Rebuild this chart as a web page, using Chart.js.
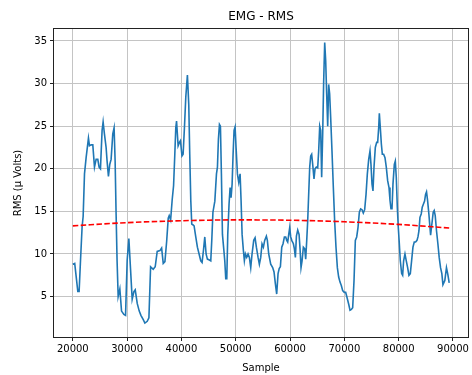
<!DOCTYPE html>
<html>
<head>
<meta charset="utf-8">
<title>EMG - RMS</title>
<script src="https://cdn.jsdelivr.net/npm/chart.js"></script>
<style>
  html, body { margin: 0; padding: 0; background: #fff; }
  #wrap { width: 472px; height: 375px; }
</style>
</head>
<body>
<div id="wrap"><canvas id="emgChart" width="472" height="375"></canvas></div>
<script>
// data
const chartTitle = 'EMG - RMS';
const xTitle = 'Sample';
const yTitle = 'RMS (µ Volts)';

const sampleX = [
  20000, 20350, 20680, 20920, 21160, 21420, 21710, 21900, 22150, 22450,
  22880, 23070, 23370, 23680, 23990, 24290, 24600, 24840, 25090, 25390,
  25580, 25820, 26130, 26310, 26560, 26800, 27050, 27360, 27600, 27790,
  27970, 28150, 28350, 28660, 28970, 29400, 29710, 30010, 30320, 30630,
  30930, 31250, 31490, 31860, 32230, 32540, 32970, 33270, 33700, 34010,
  34320, 34800, 35170, 35540, 36040, 36350, 36650, 36960, 37280, 37570,
  37750, 38010, 38300, 38550, 38780, 38960, 39100, 39390, 39630, 39820,
  40100, 40310, 40550, 40800, 41100, 41350, 41530, 41720, 41900, 42150,
  42330, 42640, 42940, 43250, 43560, 43800, 44050, 44300, 44540, 44780,
  45150, 45400, 45600, 45800, 46150, 46450, 46630, 46810, 47000, 47180,
  47360, 47550, 47790, 47980, 48160, 48350, 48530, 48770, 48960, 49140,
  49330, 49510, 49690, 49880, 50060, 50310, 50550, 50800, 50980, 51170,
  51410, 51590, 51780, 52020, 52270, 52510, 52760, 53000, 53310, 53560,
  53800, 54110, 54350, 54600, 54840, 55090, 55330, 55640, 55820, 56070,
  56440, 56800, 57050, 57300, 57540, 57790, 58000, 58220, 58470, 58710,
  58960, 59200, 59390, 59570, 59760, 59940, 60120, 60310, 60610, 60800,
  60980, 61170, 61410, 61660, 61840, 62020, 62210, 62450, 62700, 62880,
  63070, 63250, 63430, 63620, 63800, 63980, 64170, 64410, 64600, 64840,
  65090, 65270, 65460, 65640, 65820, 66010, 66190, 66380, 66560, 66740,
  66930, 67110, 67290, 67480, 67720, 67970, 68210, 68460, 68710, 68950,
  69200, 69440, 69690, 69990, 70240, 70490, 70800, 71040, 71290, 71530,
  71780, 72020, 72270, 72510, 72760, 73000, 73250, 73490, 73740, 73990,
  74230, 74480, 74720, 74900, 75090, 75270, 75460, 75700, 75950, 76130,
  76320, 76440, 76620, 76810, 76990, 77230, 77480, 77720, 77970, 78220,
  78400, 78580, 78770, 78950, 79200, 79380, 79560, 79750, 79930, 80120,
  80300, 80550, 80730, 80910, 81160, 81400, 81650, 81890, 82140, 82380,
  82630, 82870, 83120, 83370, 83550, 83730, 83920, 84150, 84340, 84580,
  84770, 84950, 85130, 85320, 85560, 85880, 86180, 86360, 86540, 86730,
  86970, 87220, 87460, 87710, 87950, 88150, 88500, 88800, 89050, 89300
];

const rmsValues = [
  8.8, 8.9, 7.0, 5.6, 5.6, 9.3, 13.2, 14.4, 19.4, 21.3,
  23.6, 22.7, 22.8, 22.8, 20.2, 21.1, 21.1, 20.2, 20.0, 24.5,
  25.5, 24.1, 22.5, 20.9, 19.1, 20.5, 21.1, 24.1, 24.8, 20.9,
  14.7, 9.2, 5.0, 5.9, 3.3, 2.9, 2.8, 9.3, 11.8, 8.2,
  4.7, 5.6, 5.8, 4.2, 3.3, 2.8, 2.3, 1.9, 2.1, 2.5,
  8.5, 8.2, 8.5, 10.3, 10.4, 10.7, 8.9, 9.1, 11.5, 14.2,
  14.5, 14.0, 16.4, 18.0, 21.7, 24.8, 25.6, 22.7, 23.1, 23.3,
  21.5, 21.7, 24.8, 28.4, 31.0, 27.5, 21.7, 16.3, 13.5, 13.4,
  13.3, 12.0, 10.8, 10.0, 9.2, 9.0, 10.4, 12.0, 10.0, 9.4,
  9.3, 9.2, 11.8, 14.9, 16.2, 19.4, 20.2, 23.5, 25.2, 25.0,
  19.4, 12.3, 10.6, 9.2, 7.1, 7.1, 12.3, 15.9, 17.8, 16.6,
  18.2, 21.7, 24.5, 24.9, 22.5, 19.4, 18.4, 19.4, 16.3, 12.3,
  10.4, 9.2, 10.0, 9.6, 10.0, 9.6, 8.4, 10.0, 11.6, 11.9,
  10.8, 9.6, 8.8, 9.6, 11.2, 10.8, 11.6, 12.1, 11.6, 10.0,
  8.8, 8.4, 7.9, 6.5, 5.3, 7.7, 8.3, 8.5, 10.8, 11.2,
  12.0, 12.0, 11.6, 11.4, 12.3, 13.1, 12.0, 11.6, 11.2, 10.6,
  9.6, 12.1, 12.8, 12.3, 10.6, 8.4, 9.2, 10.8, 10.6, 9.4,
  11.6, 13.9, 17.0, 20.2, 21.5, 21.7, 20.5, 18.8, 20.0, 20.2,
  20.1, 22.1, 25.0, 24.5, 19.0, 24.1, 30.3, 34.8, 32.7, 28.8,
  25.0, 29.9, 28.8, 26.0, 22.1, 17.8, 13.9, 10.8, 8.4, 7.3,
  6.7, 6.3, 5.7, 5.5, 5.5, 4.9, 4.1, 3.4, 3.5, 3.7,
  6.9, 11.6, 12.0, 13.1, 14.9, 15.3, 15.2, 14.8, 15.2, 17.0,
  19.4, 21.1, 22.1, 20.5, 18.2, 17.4, 20.2, 22.5, 23.1, 23.1,
  24.8, 26.5, 24.8, 22.9, 21.7, 21.7, 21.3, 20.2, 18.6, 17.8,
  16.3, 15.3, 15.3, 18.2, 20.5, 20.9, 19.0, 15.5, 13.1, 11.2,
  9.2, 7.7, 7.5, 9.2, 10.0, 9.2, 8.4, 7.5, 7.7, 9.2,
  10.8, 11.4, 11.4, 11.6, 12.0, 12.7, 14.3, 14.7, 15.5, 15.9,
  16.2, 17.0, 17.3, 16.3, 14.7, 12.2, 13.9, 14.9, 15.1, 14.5,
  12.7, 11.2, 9.6, 8.4, 7.7, 6.4, 6.9, 8.4, 7.6, 6.6
];

// red dashed trend, a few points
const trendX = [20000, 30000, 40000, 50000, 60000, 70000, 80000, 89300];
const trendY = [13.3, 13.68, 13.9, 14.0, 13.96, 13.78, 13.47, 13.05];

const xTicks = [20000, 30000, 40000, 50000, 60000, 70000, 80000, 90000];
const yTicks = [5, 10, 15, 20, 25, 30, 35];
const xRange = [16535, 92765];
const yRange = [0.26, 36.4];

Chart.defaults.font.family = '"DejaVu Sans", sans-serif';
Chart.defaults.font.size = 10;
Chart.defaults.color = '#000';

// box around the plot + title centred on the axes (like matplotlib)
const framePlugin = {
  id: 'frame',
  afterDraw(chart) {
    const { ctx, chartArea: a } = chart;
    ctx.save();
    ctx.strokeStyle = '#222';
    ctx.lineWidth = 1;
    ctx.strokeRect(Math.round(a.left) - 0.5, Math.round(a.top) - 0.5,
      Math.round(a.right - a.left) + 1, Math.round(a.bottom - a.top) + 1);
    ctx.fillStyle = '#000';
    ctx.font = '12px "DejaVu Sans", sans-serif';
    ctx.textAlign = 'center';
    ctx.textBaseline = 'middle';
    ctx.fillText(chartTitle, (a.left + a.right) / 2, 17);
    ctx.restore();
  }
};

const ctx = document.getElementById('emgChart').getContext('2d');
new Chart(ctx, {
  type: 'line',
  data: {
    datasets: [
      {
        label: 'RMS',
        data: sampleX.map((x, i) => ({ x: x, y: rmsValues[i] })),
        borderColor: '#1f77b4',
        borderWidth: 1.6,
        pointRadius: 0,
        tension: 0,
        order: 2
      },
      {
        label: 'trend',
        data: trendX.map((x, i) => ({ x: x, y: trendY[i] })),
        borderColor: '#ff0000',
        borderWidth: 1.6,
        borderDash: [5.5, 2.4],
        pointRadius: 0,
        cubicInterpolationMode: 'monotone',
        order: 1
      }
    ]
  },
  options: {
    responsive: false,
    animation: false,
    layout: { padding: { top: 29, right: 4, left: 0, bottom: 0 } },
    plugins: {
      legend: { display: false },
      title: { display: false },
      tooltip: { enabled: false }
    },
    scales: {
      x: {
        type: 'linear',
        min: xRange[0],
        max: xRange[1],
        afterBuildTicks: s => { s.ticks = xTicks.map(v => ({ value: v })); },
        afterFit: s => { s.height = 38; s.paddingLeft = 0; s.paddingRight = 0; },
        ticks: { callback: v => String(v), maxRotation: 0, padding: 2, color: '#000' },
        grid: { color: '#c4c4c4', lineWidth: 1, tickLength: 4, tickColor: '#222', tickWidth: 1 },
        border: { display: false },
        title: { display: true, text: xTitle, padding: { top: 0, bottom: 1 } }
      },
      y: {
        type: 'linear',
        min: yRange[0],
        max: yRange[1],
        afterBuildTicks: s => { s.ticks = yTicks.map(v => ({ value: v })); },
        afterFit: s => { s.width = 54; s.paddingTop = 0; s.paddingBottom = 0; },
        ticks: { callback: v => String(v), padding: 3, color: '#000' },
        grid: { color: '#c4c4c4', lineWidth: 1, tickLength: 4, tickColor: '#222', tickWidth: 1 },
        border: { display: false },
        title: { display: true, text: yTitle, padding: { top: 12, bottom: 0 } }
      }
    }
  },
  plugins: [framePlugin]
});
</script>
</body>
</html>
